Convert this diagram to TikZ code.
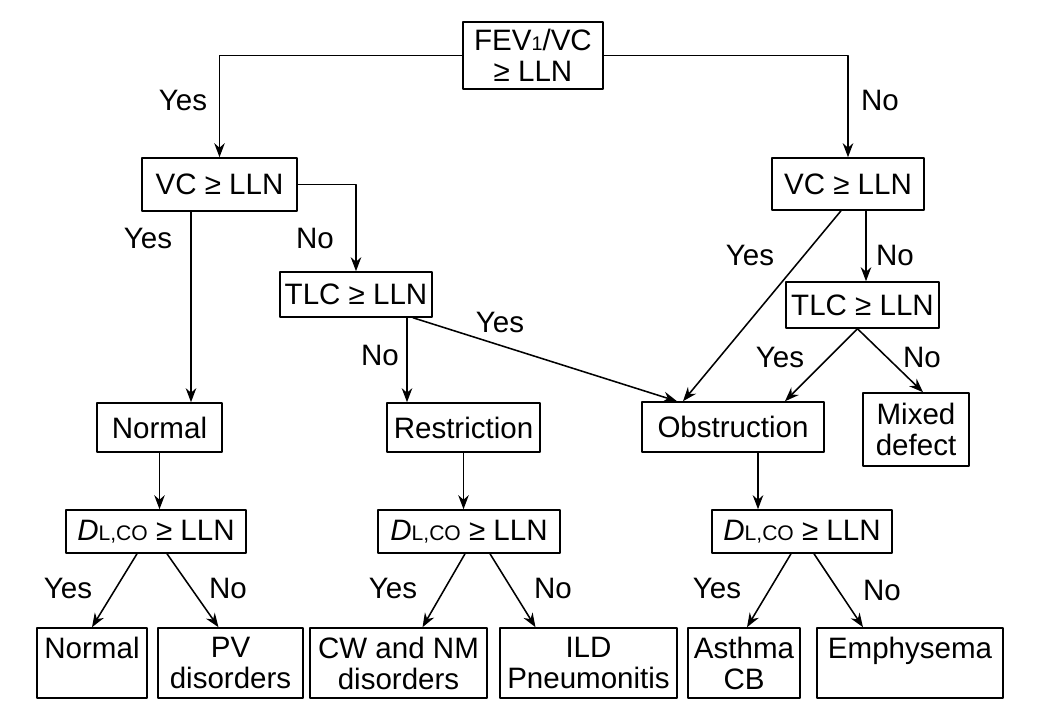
\documentclass[tikz,border=0pt]{standalone}
\usepackage{fontspec}
\setmainfont{Liberation Sans}
\usetikzlibrary{calc,arrows.meta}
\newcommand{\pxu}{0.025cm}
\newcommand{\dlco}{\textit{D}{\fontsize{15}{15}\selectfont L,CO}}
\begin{document}
\begin{tikzpicture}[x=0.025cm, y=-0.025cm, line cap=round, line join=round, font=\fontsize{21}{22}\selectfont, >={Stealth[length=10pt,width=7.5pt]}, line width=1.1pt]
		\tikzset{box/.style n args={2}{draw, align=center, inner sep=0pt, minimum width=#1*\pxu, minimum height=#2*\pxu}}
		\tikzset{lab/.style={inner sep=0pt}}
		\useasboundingbox (0,0) rectangle (1037,727);
		% questions
		\node[box={140}{67}] (fev) at (533,55.5) {FEV{\fontsize{14}{14}\selectfont 1}/VC\\≥ LLN};
		\node[box={155}{53}] (vcL) at (219.5,184.5) {VC ≥ LLN};
		\node[box={152}{52}] (vcR) at (848,184) {VC ≥ LLN};
		\node[box={152}{45}] (tlcL) at (356,294.5) {TLC ≥ LLN};
		\node[box={153}{46}] (tlcR) at (862.5,305) {TLC ≥ LLN};
		% patterns
		\node[box={125}{49}] (normM) at (159.5,427.5) {Normal};
		\node[box={153}{49}] (restr) at (463.5,427.5) {Restriction};
		\node[box={182}{50}] (obst) at (733,427) {Obstruction};
		\node[box={106}{73}] (mixed) at (916,429.5) {Mixed\\defect};
		\node[box={180}{43}] (dlA) at (156,531.5) {\dlco{} ≥ LLN};
		\node[box={182}{43}] (dlB) at (469,531.5) {\dlco{} ≥ LLN};
		\node[box={180}{43}] (dlC) at (802,531.5) {\dlco{} ≥ LLN};
		% end results
		\node[box={110}{70}] (normB) at (92,663) {Normal\\{}};
		\node[box={145}{70}] (pv) at (230.5,663) {PV\\disorders};
		\node[box={177}{70}] (cw) at (398.5,663) {CW and NM\\disorders};
		\node[box={177}{70}] (ild) at (588.5,663) {ILD\\Pneumonitis};
		\node[box={112}{70}] (asth) at (744,663) {Asthma\\CB};
		\node[box={186}{70}] (emph) at (910,663) {Emphysema\\{}};
		% start points off the box centres
		\coordinate (vcLs) at ($(vcL.south)+(-28.5,0)$);
		\coordinate (tlcLs) at ($(tlcL.south)+(51,0)$);
		\coordinate (vcRs) at ($(vcR.south)+(18,0)$);
		\coordinate (obsts) at ($(obst.south)+(25,0)$);
		% arrows
		\draw[->] (fev.west) -| (vcL.north);
		\draw[->] (fev.east) -| (vcR.north);
		\draw[->] (vcL.east) -| (tlcL.north);
		\draw[->] (vcLs) -- (vcLs |- normM.north);
		\draw[->] (tlcLs) -- (tlcLs |- restr.north);
		\draw[->] ($(tlcL.south)+(57,0)$) -- ($(obst.north)+(-56,0)$);
		\draw[->] ($(vcR.south)+(-7,0)$) -- ($(obst.north)+(-50,0)$);
		\draw[->] (vcRs) -- (vcRs |- tlcR.north);
		\draw[->] ($(tlcR.south)+(-5,0)$) -- ($(obst.north)+(52,0)$);
		\draw[->] ($(tlcR.south)+(-5,0)$) -- ($(mixed.north)+(7,0)$);
		\draw[->] (normM.south) -- (normM.south |- dlA.north);
		\draw[->] (restr.south) -- (restr.south |- dlB.north);
		\draw[->] (obsts) -- (obsts |- dlC.north);
		\draw[->] ($(dlA.south)+(-19,0)$) -- (normB.north);
		\draw[->] ($(dlA.south)+(11,0)$) -- ($(pv.north)+(-12,0)$);
		\draw[->] ($(dlB.south)+(-4,0)$) -- ($(cw.north)+(24,0)$);
		\draw[->] ($(dlB.south)+(21,0)$) -- ($(ild.north)+(-53,0)$);
		\draw[->] ($(dlC.south)+(-11,0)$) -- ($(asth.north)+(3,0)$);
		\draw[->] ($(dlC.south)+(12,0)$) -- ($(emph.north)+(-47,0)$);
		% yes / no
		\node[lab] (y1) at (183,100) {Yes};
		\node[lab] (n1) at (880,100) {No};
		\node[lab] (y2) at (148,238) {Yes};
		\node[lab] (n2) at (315,238) {No};
		\node[lab] (y3) at (500,322) {Yes};
		\node[lab] (n3) at (380,355) {No};
		\node[lab] (y4) at (750,255) {Yes};
		\node[lab] (n4) at (895,255) {No};
		\node[lab] (y5) at (780,357) {Yes};
		\node[lab] (n5) at (922,357) {No};
		\node[lab] (y6) at (68,588) {Yes};
		\node[lab] (n6) at (228,588) {No};
		\node[lab] (y7) at (393,588) {Yes};
		\node[lab] (n7) at (553,588) {No};
		\node[lab] (y8) at (717,588) {Yes};
		\node[lab] (n8) at (882,590) {No};
\end{tikzpicture}
\end{document}
